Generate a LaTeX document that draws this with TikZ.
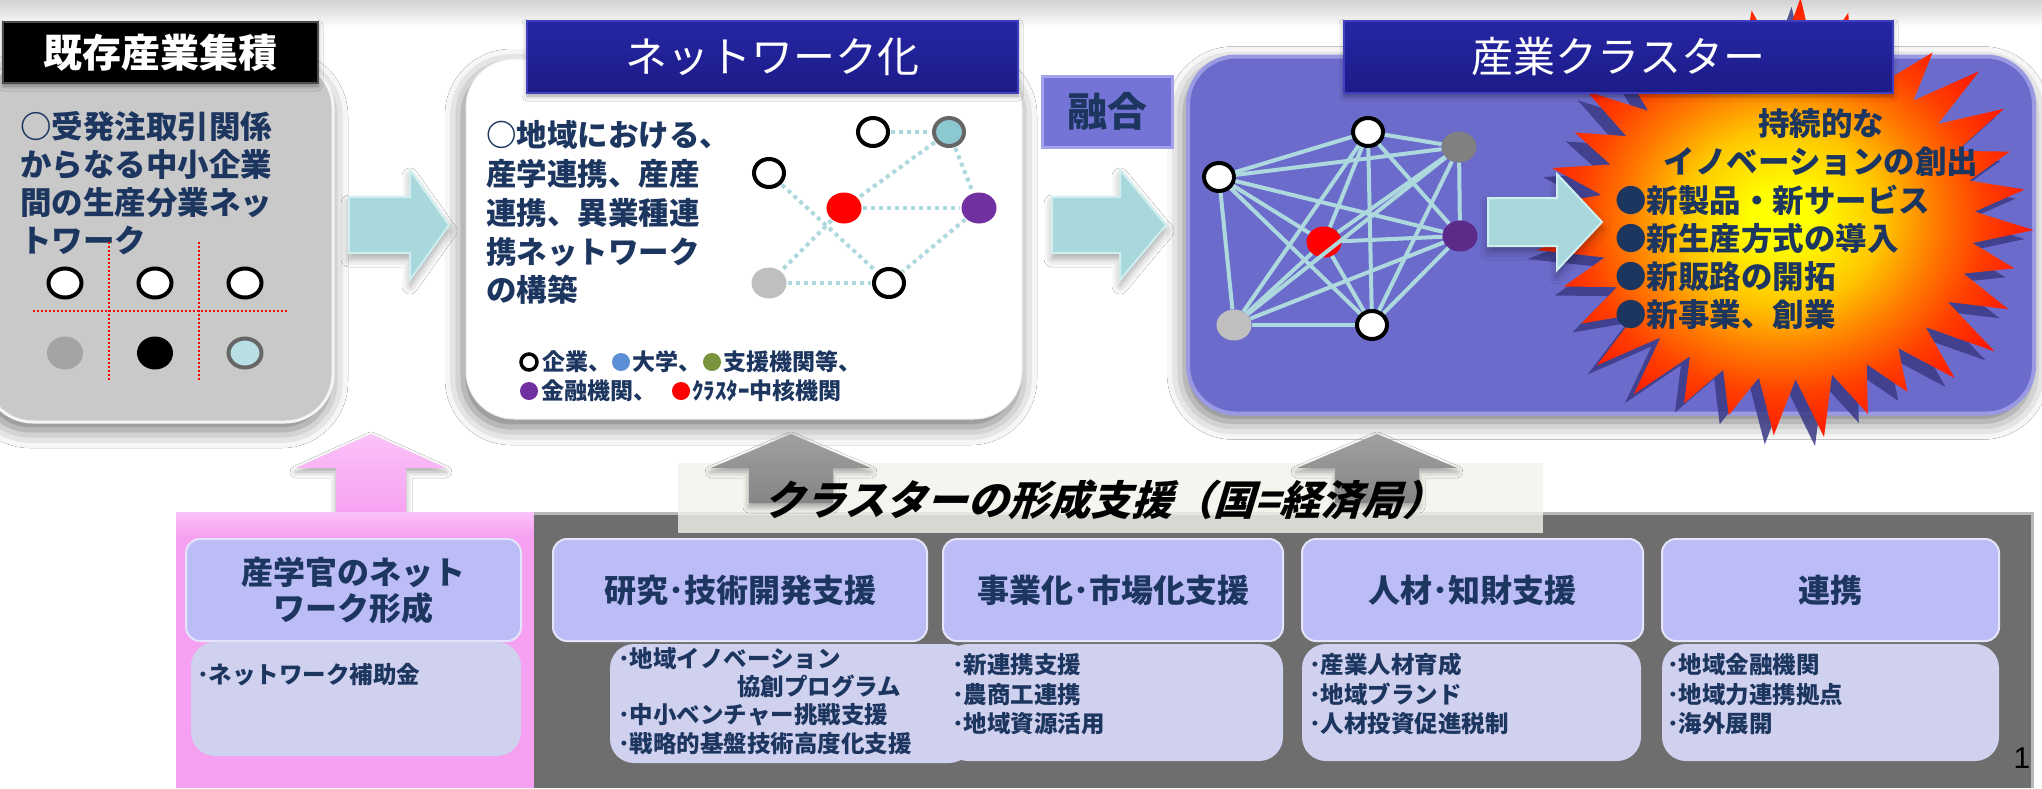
\documentclass[tikz,border=0pt]{standalone}
\usepackage{fontspec}
\usetikzlibrary{shapes.geometric,shadows.blur}
\newfontfamily\jp{Noto Sans CJK JP}
\newfontfamily\jpit{Noto Sans CJK JP}[FakeSlant=0.3]
\newfontfamily\arialf{Liberation Sans}
\definecolor{navytxt}{HTML}{1D3660}
\definecolor{navybox}{HTML}{1B1B88}
\definecolor{navytop}{HTML}{2626A4}
\definecolor{navyedge}{HTML}{3F3FC0}
\definecolor{graybox}{HTML}{C9C9C9}
\definecolor{purpbox}{HTML}{6B6BCC}
\definecolor{purpedge}{HTML}{9A9AE4}
\definecolor{fusebox}{HTML}{7474D6}
\definecolor{fuseedge}{HTML}{A2A2EA}
\definecolor{tealfill}{HTML}{A8D8DC}
\definecolor{tealedge}{HTML}{CFEEF0}
\definecolor{edgeblue}{HTML}{ADD9DE}
\definecolor{hdrfill}{HTML}{BCBCF6}
\definecolor{lowfill}{HTML}{D0D0EF}
\definecolor{panelgray}{HTML}{6E6E6E}
\definecolor{pinkp}{HTML}{F6A0F1}
\definecolor{pinktop}{HTML}{FBC2F8}
\definecolor{uparrgray}{HTML}{858585}
\definecolor{uparrtop}{HTML}{A0A0A0}
\definecolor{lblue}{HTML}{5B8FD6}
\definecolor{lgreen}{HTML}{77933C}
\definecolor{lpurp}{HTML}{7030A0}
\definecolor{dpurp}{HTML}{5E2A8A}
\definecolor{tealnode}{HTML}{8CC8D0}
\definecolor{lbluenode}{HTML}{B8E0E4}
\definecolor{cream}{HTML}{F4F2EA}
\definecolor{burstshadow}{HTML}{3A3A86}
\colorlet{burstB}{orange!45!yellow}
\colorlet{burstC}{orange}
\colorlet{burstD}{red!50!orange}
\colorlet{burstE}{red!80!orange}
\pgfdeclareradialshading{burst}{\pgfpoint{0bp}{0bp}}{color(0bp)=(yellow); color(3bp)=(yellow); color(10bp)=(burstB); color(15bp)=(burstC); color(20bp)=(burstD); color(25bp)=(burstE); color(50bp)=(burstE)}
\begin{document}
\begin{tikzpicture}[x=1pt,y=-1pt,
 bigbox/.style={rectangle, rounded corners=48pt, inner sep=0pt, blur shadow={shadow xshift=-3pt, shadow yshift=-8pt, shadow blur radius=18pt, shadow opacity=55}},
 navytitle/.style={rectangle, inner sep=0pt, draw=navyedge, line width=1.5pt, top color=navytop, bottom color=navybox, text=white, font=\jp\fontsize{42pt}{42pt}\selectfont, blur shadow={shadow xshift=0pt, shadow yshift=-3pt, shadow blur radius=5pt, shadow opacity=40}},
 bodytxt/.style={anchor=base west, inner sep=0pt, text=navytxt, font=\jp\bfseries\fontsize{31.5pt}{36pt}\selectfont},
 body2/.style={bodytxt, font=\jp\bfseries\fontsize{30.5pt}{36pt}\selectfont},
 legtxt/.style={bodytxt, font=\jp\bfseries\fontsize{23pt}{28pt}\selectfont},
 legdot/.style={circle, minimum size=18pt, inner sep=0pt},
 hdrbox/.style={rectangle, rounded corners=14pt, fill=hdrfill, draw=white!60!hdrfill, line width=2pt, inner sep=0pt, text=navytxt, font=\jp\bfseries\fontsize{32pt}{36pt}\selectfont, align=center},
 lowbox/.style={rectangle, rounded corners=24pt, fill=lowfill, inner sep=0pt},
 lowtxt/.style={bodytxt, font=\jp\bfseries\fontsize{23.5pt}{28pt}\selectfont},
 tealarrow/.style={fill=tealfill, draw=tealedge, line width=2pt, line join=miter, blur shadow={shadow xshift=0pt, shadow yshift=-6pt, shadow blur radius=8pt, shadow opacity=35}},
 uparrow/.style={line join=miter, blur shadow={shadow xshift=0pt, shadow yshift=-4pt, shadow blur radius=6pt, shadow opacity=35}},
 ringn/.style={ellipse, draw=black, line width=4pt, fill=white, minimum width=30pt, minimum height=28pt, inner sep=0pt},
 filln/.style={ellipse, minimum width=35pt, minimum height=31pt, inner sep=0pt},
 gridline/.style={draw=red, line width=1.6pt, dash pattern=on 2pt off 2pt},
 edge2/.style={draw=edgeblue, line width=4pt, dash pattern=on 4pt off 4pt, shorten <=1pt, shorten >=1pt},
 edge3/.style={draw=edgeblue, line width=4pt},
]
\useasboundingbox (0,0) rectangle (2042,788);
\fill[white] (0,0) rectangle (2042,788);
\fill[top color=gray!35, bottom color=white] (0,0) rectangle (2042,28);
% top boxes
\node[bigbox, fill=graybox, draw=white!80!graybox, line width=3pt, minimum width=348pt, minimum height=362pt] (box1) at (159,241) {};
\node[bigbox, fill=white, draw=gray!15, line width=1pt, minimum width=556pt, minimum height=360pt] (box2) at (744,239) {};
\node[bigbox, fill=purpbox, draw=purpedge, line width=4pt, minimum width=846pt, minimum height=357pt] (box3) at (1611,235) {};
% teal arrows between boxes
\path[tealarrow] (349,197) -- (410,197) -- (410,170) -- (449,225) -- (410,280) -- (410,253) -- (349,253) -- cycle;
\path[tealarrow] (1052,197) -- (1120,197) -- (1120,170) -- (1166,225) -- (1120,280) -- (1120,253) -- (1052,253) -- cycle;
% pink up arrow
\path[uparrow, top color=pinktop, bottom color=pinkp] (336,516) -- (336,468) -- (296,468) -- (371,434) -- (446,468) -- (406,468) -- (406,516) -- cycle;
% bottom panel
\fill[pinkp] (176,512) rectangle (534,788);
\fill[top color=pinktop, bottom color=pinkp] (176,512) rectangle (534,536);
\fill[panelgray] (534,512) rectangle (2034,788);
\draw[gray!55!white, line width=3pt] (534,513.5) -- (2032.5,513.5) -- (2032.5,788);
\node[rectangle, fill=cream, fill opacity=0.8, minimum width=865pt, minimum height=70pt, inner sep=0pt] (ttlbox) at (1110.5,498) {};
% gray up arrows
\path[uparrow, top color=uparrtop, bottom color=uparrgray] (749,503) -- (749,468) -- (711,468) -- (791,434) -- (871,468) -- (833,468) -- (833,503) -- cycle;
\path[uparrow, top color=uparrtop, bottom color=uparrgray] (1335,503) -- (1335,468) -- (1297,468) -- (1377,434) -- (1457,468) -- (1419,468) -- (1419,503) -- cycle;
% lower boxes
\node[lowbox, minimum width=330pt, minimum height=114pt] (low1) at (356,699) {};
\node[lowbox, minimum width=363pt, minimum height=119pt] (low2) at (791.5,703.5) {};
\node[lowbox, minimum width=339pt, minimum height=117pt] (low3) at (1113.5,702.5) {};
\node[lowbox, minimum width=339pt, minimum height=117pt] (low4) at (1471.5,702.5) {};
\node[lowbox, minimum width=337pt, minimum height=117pt] (low5) at (1830.5,702.5) {};

% title boxes
\node[rectangle, fill=black, draw=gray!60!black, line width=1.5pt, minimum width=315pt, minimum height=61pt, inner sep=0pt, text=white, font=\jp\bfseries\fontsize{39pt}{39pt}\selectfont, blur shadow={shadow xshift=0pt, shadow yshift=-3pt, shadow blur radius=5pt, shadow opacity=40}] (t1) at (160.5,52.5) {既存産業集積};
\node[navytitle, minimum width=491pt, minimum height=72pt] (t2) at (772.5,57) {ネットワーク化};
\node[rectangle, fill=fusebox, draw=fuseedge, line width=3pt, minimum width=130pt, minimum height=71pt, inner sep=0pt, text=navytxt, font=\jp\bfseries\fontsize{40pt}{40pt}\selectfont] (fuse) at (1107,111.5) {融合};

% box1 text
\node[bodytxt] (g1) at (20,138) {○受発注取引関係};
\node[bodytxt] (g2) at (20,176) {からなる中小企業};
\node[bodytxt] (g3) at (20,214) {間の生産分業ネッ};
\node[bodytxt] (g4) at (20,252) {トワーク};
% box1 grid and circles
\coordinate (gv1a) at (109,242); \coordinate (gv1b) at (109,380);
\coordinate (gv2a) at (199,242); \coordinate (gv2b) at (199,380);
\coordinate (gha) at (33,311); \coordinate (ghb) at (287,311);
\draw[gridline] (gv1a) -- (gv1b);
\draw[gridline] (gv2a) -- (gv2b);
\draw[gridline] (gha) -- (ghb);
\node[ringn, minimum width=33pt, minimum height=29pt] (c1) at (65,283) {};
\node[ringn, minimum width=33pt, minimum height=29pt] (c2) at (155,283) {};
\node[ringn, minimum width=33pt, minimum height=29pt] (c3) at (245,283) {};
\node[filln, fill=gray!50!graybox, minimum width=36pt, minimum height=33pt] (c4) at (65,353) {};
\node[filln, fill=black, minimum width=36pt, minimum height=33pt] (c5) at (155,353) {};
\node[ringn, draw=gray!80!black, fill=lbluenode, minimum width=33pt, minimum height=29pt] (c6) at (245,353) {};

% box2 text
\node[body2] (n1) at (486,146) {○地域における、};
\node[body2] (n2) at (486,185) {産学連携、産産};
\node[body2] (n3) at (486,224) {連携、異業種連};
\node[body2] (n4) at (486,263) {携ネットワーク};
\node[body2] (n5) at (486,301) {の構築};
% legend
\node[legdot, draw=black, line width=3.5pt, fill=white, minimum size=16pt] (d1) at (529,362) {};
\node[legtxt] (lt1) at (542,370) {企業、};
\node[legdot, fill=lblue] (d2) at (621,362) {};
\node[legtxt] (lt2) at (632,370) {大学、};
\node[legdot, fill=lgreen] (d3) at (712,362) {};
\node[legtxt] (lt3) at (723,370) {支援機関等、};
\node[legdot, fill=lpurp] (d4) at (529,391) {};
\node[legtxt] (lt4) at (541,399) {金融機関、};
\node[legdot, fill=red] (d5) at (681,391) {};
\node[legtxt] (lt5) at (692,399) {ｸﾗｽﾀｰ中核機関};
% network 2
\node[ringn] (w1) at (873,132) {};
\node[ringn, draw=gray!80!black, fill=tealnode] (tq) at (949,132) {};
\node[ringn] (w2) at (769,173) {};
\node[filln, fill=red] (rd) at (844,208) {};
\node[filln, fill=lpurp] (pu) at (979,208) {};
\node[filln, fill=gray!50] (gy) at (769,283) {};
\node[ringn] (w3) at (889,283) {};
\foreach \a/\b in {w1/tq, tq/rd, tq/pu, rd/pu, w2/w3, rd/gy, gy/w3, pu/w3}
  \draw[edge2] (\a) -- (\b);

% network 3
\node[ringn] (nA) at (1368,132) {};
\node[filln, fill=gray] (nB) at (1459,147) {};
\node[ringn] (nC) at (1219,177) {};
\node[filln, fill=red] (nD) at (1324,242) {};
\node[filln, fill=dpurp] (nE) at (1460,236) {};
\node[filln, fill=gray!50] (nF) at (1234,325) {};
\node[ringn] (nG) at (1372,325) {};
\foreach \a/\b in {nA/nB, nA/nC, nA/nD, nA/nE, nA/nF, nA/nG, nB/nC, nB/nD, nB/nE, nB/nF, nB/nG, nC/nD, nC/nE, nC/nF, nC/nG, nD/nE, nD/nF, nD/nG, nE/nF, nE/nG, nF/nG}
  \draw[edge3] (\a) -- (\b);

% starburst
\fill[burstshadow, opacity=0.85, shift={(-9,9)}] plot[domain=0:63, samples=64] ({1787+247*(mod(\x,2)<0.5 ? 1+0.05*sin(\x*137) : 0.76)*cos(\x*5.625+3)}, {219+211*(mod(\x,2)<0.5 ? 1+0.05*sin(\x*137) : 0.76)*sin(\x*5.625+3)}) -- cycle;
\shade[shading=burst] plot[domain=0:63, samples=64] ({1787+247*(mod(\x,2)<0.5 ? 1+0.05*sin(\x*137) : 0.76)*cos(\x*5.625+3)}, {219+211*(mod(\x,2)<0.5 ? 1+0.05*sin(\x*137) : 0.76)*sin(\x*5.625+3)}) -- cycle;
% title of cluster box (in front of the starburst)
\node[navytitle, minimum width=549pt, minimum height=72pt] (t3) at (1618.5,57) {産業クラスター};
% arrow into starburst
\path[tealarrow] (1488,198) -- (1557,198) -- (1557,174) -- (1602,222) -- (1557,270) -- (1557,246) -- (1488,246) -- cycle;
% starburst text
\node[bodytxt, anchor=base] (s1) at (1821,135) {持続的な};
\node[bodytxt, anchor=base] (s2) at (1821,173) {イノベーションの創出};
\node[bodytxt] (s3) at (1615,212) {●新製品・新サービス};
\node[bodytxt] (s4) at (1615,250) {●新生産方式の導入};
\node[bodytxt] (s5) at (1615,288) {●新販路の開拓};
\node[bodytxt] (s6) at (1615,326) {●新事業、創業};

% bottom title
\node[anchor=base west, inner sep=0pt, font=\jpit\bfseries\fontsize{41pt}{41pt}\selectfont, text=black] (ttl) at (763,515) {クラスターの形成支援（国=経済局）};

% headers
\node[hdrbox, minimum width=335pt, minimum height=102pt] (h1) at (353.5,590) {産学官のネット\\ワーク形成};
\node[hdrbox, minimum width=374pt, minimum height=102pt] (h2) at (740,590) {研究･技術開発支援};
\node[hdrbox, minimum width=340pt, minimum height=102pt] (h3) at (1113,590) {事業化･市場化支援};
\node[hdrbox, minimum width=341pt, minimum height=102pt] (h4) at (1472.5,590) {人材･知財支援};
\node[hdrbox, minimum width=337pt, minimum height=102pt] (h5) at (1830.5,590) {連携};

% lower texts
\node[lowtxt] (l1a) at (197,683) {･ネットワーク補助金};
\node[lowtxt] (l2a) at (618,667) {･地域イノベーション};
\node[lowtxt] (l2b) at (737,695) {協創プログラム};
\node[lowtxt] (l2c) at (618,723) {･中小ベンチャー挑戦支援};
\node[lowtxt] (l2d) at (618,752) {･戦略的基盤技術高度化支援};
\node[lowtxt] (l3a) at (952,673) {･新連携支援};
\node[lowtxt] (l3b) at (952,703) {･農商工連携};
\node[lowtxt] (l3c) at (952,732) {･地域資源活用};
\node[lowtxt] (l4a) at (1309,673) {･産業人材育成};
\node[lowtxt] (l4b) at (1309,703) {･地域ブランド};
\node[lowtxt] (l4c) at (1309,732) {･人材投資促進税制};
\node[lowtxt] (l5a) at (1667,673) {･地域金融機関};
\node[lowtxt] (l5b) at (1667,703) {･地域力連携拠点};
\node[lowtxt] (l5c) at (1667,732) {･海外展開};

\node[inner sep=0pt, font=\arialf\fontsize{30pt}{30pt}\selectfont, text=black] (pg) at (2022,758) {1};
\end{tikzpicture}
\end{document}
